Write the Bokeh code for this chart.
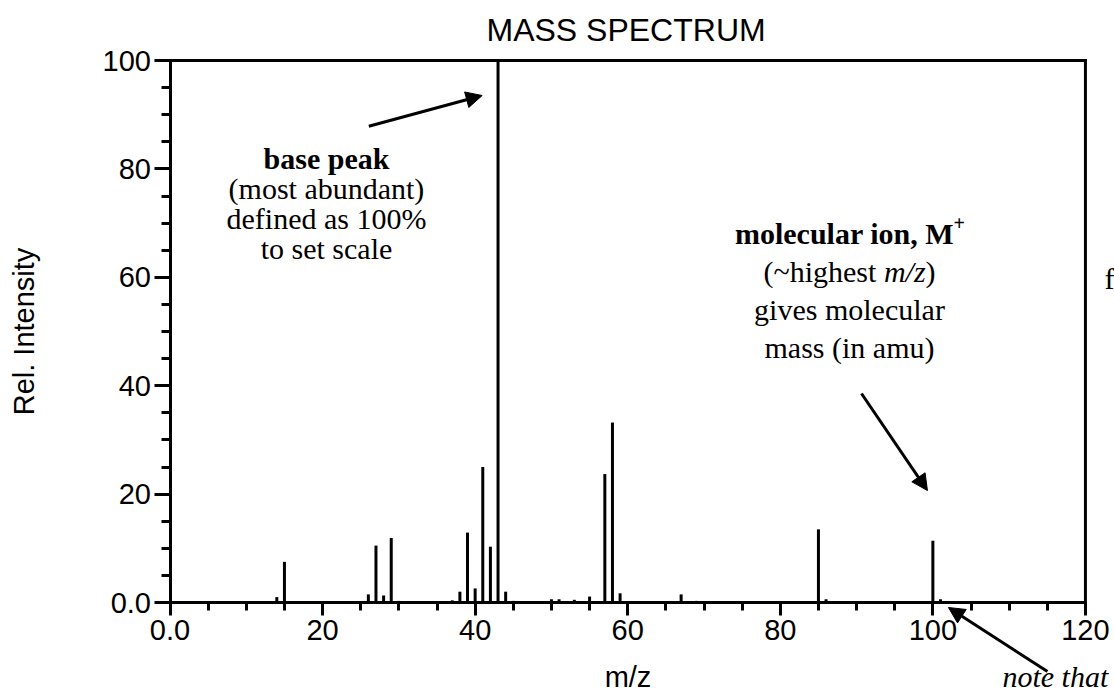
from bokeh.plotting import figure
from bokeh.models import Range1d, FixedTicker, Label, Arrow, NormalHead
from bokeh.embed import file_html
from bokeh.resources import INLINE

# ---- data ----
mz = [14, 15, 26, 27, 28, 29, 30, 31, 37, 38, 39, 40, 41, 42, 43, 44, 45,
      50, 51, 53, 55, 57, 58, 59, 67, 69, 72, 85, 86, 100, 101]
intensity = [1.0, 7.5, 1.5, 10.5, 1.3, 11.9, 0.3, 0.2, 0.4, 2.0, 12.9, 2.6, 25.0, 10.3, 100.0, 2.0, 0.3,
             0.6, 0.6, 0.5, 1.1, 23.7, 33.2, 1.7, 1.5, 0.3, 0.2, 13.5, 0.6, 11.4, 0.6]
x_ticks = [0, 20, 40, 60, 80, 100, 120]
x_minor = [v for v in range(0, 121, 5)]
y_ticks = [0, 20, 40, 60, 80, 100]
y_minor = [v for v in range(0, 101, 5)]
zero_label = "0.0"

SANS = "Liberation Sans"
SERIF = "Liberation Serif"

X_MAX = x_ticks[-1]
Y_MAX = y_ticks[-1]

# the frame covers the page below the title, so that notes outside the box can be drawn;
# the axes are fixed at x = 0 and y = 0
p = figure(width=1114, height=696, output_backend="svg", toolbar_location=None,
           x_range=Range1d(-22.22, 123.81), y_range=Range1d(-17.34, 102.40),
           min_border_left=0, min_border_right=0, min_border_top=47, min_border_bottom=0)

p.title.text = "MASS SPECTRUM"
p.title.align = "left"
p.title.offset = 486
p.title.text_font = SANS
p.title.text_font_size = "32px"
p.title.text_font_style = "normal"
p.title.text_color = "black"
p.title.standoff = 0

p.xgrid.visible = False
p.ygrid.visible = False
p.outline_line_color = None
p.background_fill_color = "white"
p.border_fill_color = "white"

for ax in (p.xaxis[0], p.yaxis[0]):
    ax.axis_line_width = 3
    ax.axis_line_color = "black"
    ax.major_tick_line_width = 3
    ax.minor_tick_line_width = 3
    ax.major_tick_line_color = "black"
    ax.minor_tick_line_color = "black"
    ax.major_tick_in = 0
    ax.minor_tick_in = 0
    ax.major_label_text_font = SANS
    ax.major_label_text_font_size = "29px"
    ax.major_label_text_color = "black"
    ax.axis_label_text_font = SANS
    ax.axis_label_text_font_size = "29px"
    ax.axis_label_text_font_style = "normal"
    ax.axis_label_text_color = "black"

p.xaxis[0].ticker = FixedTicker(ticks=x_ticks, minor_ticks=x_minor)
p.yaxis[0].ticker = FixedTicker(ticks=y_ticks, minor_ticks=y_minor)
p.xaxis[0].bounds = (0, X_MAX)
p.yaxis[0].bounds = (0, Y_MAX)
p.xaxis[0].fixed_location = 0
p.yaxis[0].fixed_location = 0
p.xaxis[0].major_label_overrides = {0: zero_label}
p.yaxis[0].major_label_overrides = {0: zero_label}
p.xaxis[0].major_tick_out = 13
p.xaxis[0].minor_tick_out = 8
p.yaxis[0].major_tick_out = 16
p.yaxis[0].minor_tick_out = 9
p.xaxis[0].major_label_standoff = 4
p.yaxis[0].major_label_standoff = 3
p.xaxis[0].axis_label = "m/z"
p.yaxis[0].axis_label = "Rel. Intensity"
p.xaxis[0].axis_label_standoff = 18
p.yaxis[0].axis_label_standoff = 60

# top and right border of the plotting box
p.segment(x0=[0, X_MAX], y0=[Y_MAX, 0], x1=[X_MAX, X_MAX], y1=[Y_MAX, Y_MAX],
          line_color="black", line_width=3, line_cap="square")

# peaks
p.segment(x0=mz, y0=[0] * len(mz), x1=mz, y1=intensity, line_color="black", line_width=3)

# annotations
def lab(x, y, text, style="normal", size="30px", align="center", font=SERIF, baseline="alphabetic"):
    p.add_layout(Label(x=x, y=y, text=text, text_font=font, text_font_size=size,
                       text_font_style=style, text_align=align, text_baseline=baseline,
                       text_color="black"))

lab(20.51, 81.92, "base peak", style="bold")
lab(20.51, 76.38, "(most abundant)")
lab(20.51, 70.85, "defined as 100%")
lab(20.51, 65.31, "to set scale")

lab(74.06, 68.08, "molecular ion, M", style="bold", align="left")
lab(102.7, 69.93, "+", style="bold", size="20px", align="left")
lab(92.59, 61.07, "(~highest", align="right")
lab(93.58, 61.07, "m/z", style="italic", align="left")
lab(99.04, 61.07, ")", align="left")
lab(89.07, 54.06, "gives molecular")
lab(89.07, 47.05, "mass (in amu)")

lab(109.12, -13.65, "note that", style="italic", align="left")
lab(122.5, 59.78, "f", align="left")

def arr(xs, ys, xe, ye):
    p.add_layout(Arrow(end=NormalHead(size=16, fill_color="black", line_color="black", line_width=1),
                       x_start=xs, y_start=ys, x_end=xe, y_end=ye,
                       line_width=3, line_color="black"))

arr(26.06, 87.88, 40.92, 93.54)
arr(90.64, 38.56, 99.29, 20.66)
arr(115.02, -12.73, 102.04, -0.92)

open("out.html", "w").write(file_html(p, INLINE))
